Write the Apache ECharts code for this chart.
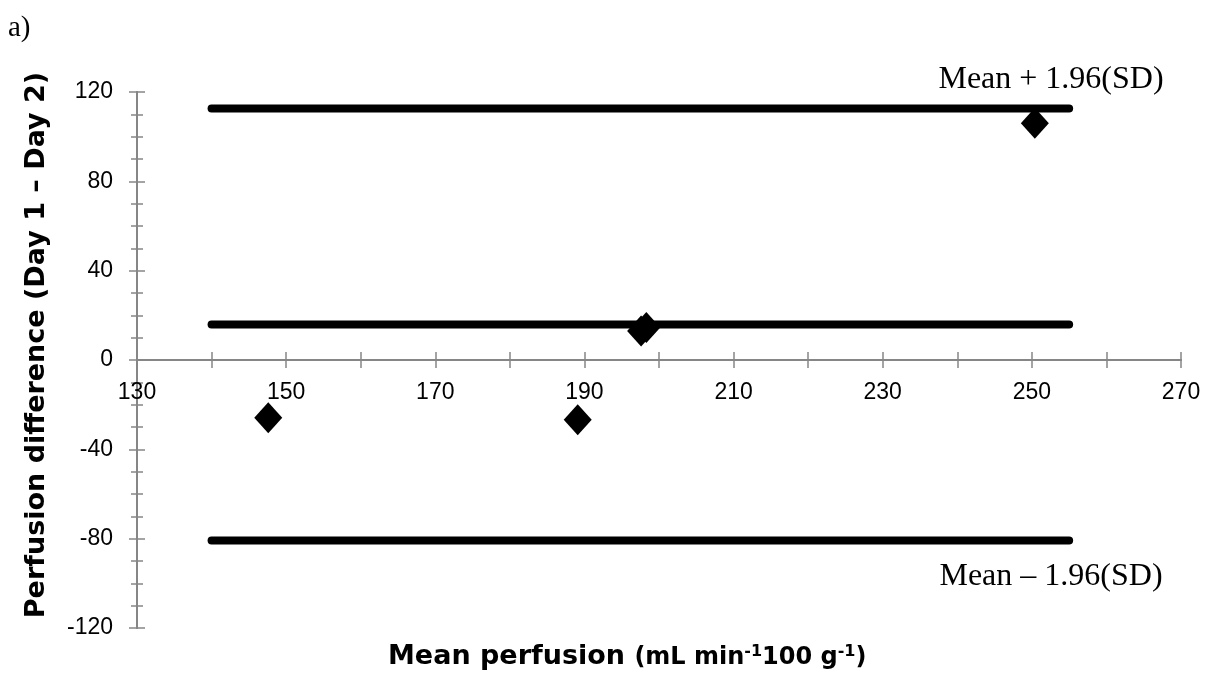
<!DOCTYPE html>
<html>
<head>
<meta charset="utf-8">
<script src="https://cdn.jsdelivr.net/npm/echarts@6/dist/echarts.min.js"></script>
<style>
  html, body { margin: 0; padding: 0; background: #fff; }
  #chart { width: 1208px; height: 677px; }
</style>
</head>
<body>
<div id="chart"></div>
<script>
// Bland-Altman data
const meanPerfusion = [147.6, 189.1, 197.6, 198.3, 250.4];
const perfusionDiff = [-25.9, -26.8, 13.0, 14.5, 106.0];
const limitRange = [140, 255];
const meanDiff = 15.9;
const upperLimit = 112.6;
const lowerLimit = -80.8;
const upperText = 'Mean + 1.96(SD)';
const lowerText = 'Mean \u2013 1.96(SD)';

const axisGray = '#868686';
const gridTop = 92;
const gridBottom = 49;
// x axis sits on y = 0, which is half way up the plot (y runs -120..120)
const xAxisShift = -(677 - gridTop - gridBottom) / 2;

const chart = echarts.init(document.getElementById('chart'));

function hLine(y) {
  return {
    type: 'line',
    data: limitRange.map(x => [x, y]),
    symbol: 'none',
    silent: true,
    z: 2,
    lineStyle: { color: '#000', width: 8, cap: 'round' }
  };
}

function xAx(inside) {
  return {
    type: 'value',
    min: 130,
    max: 270,
    interval: 20,
    position: 'bottom',
    offset: xAxisShift,
    axisLine: { show: true, onZero: false, lineStyle: { color: axisGray, width: 2 } },
    axisTick: { show: true, inside: inside, length: 8, lineStyle: { color: axisGray, width: 1.5 } },
    minorTick: { show: true, splitNumber: 2, length: 8, lineStyle: { color: axisGray, width: 1.5 } },
    axisLabel: {
      show: !inside,
      color: '#000',
      fontFamily: 'Liberation Sans',
      fontSize: 23,
      margin: 21
    },
    splitLine: { show: false }
  };
}

function yAx(inside) {
  return {
    type: 'value',
    min: -120,
    max: 120,
    interval: 40,
    position: 'left',
    axisLine: { show: true, onZero: false, lineStyle: { color: axisGray, width: 2 } },
    axisTick: { show: true, inside: inside, length: 8, lineStyle: { color: axisGray, width: 1.5 } },
    minorTick: { show: true, splitNumber: 4, length: 6, lineStyle: { color: axisGray, width: 1.5 } },
    axisLabel: {
      show: !inside,
      color: '#000',
      fontFamily: 'Liberation Sans',
      fontSize: 23,
      margin: 24
    },
    splitLine: { show: false }
  };
}

chart.setOption({
  animation: false,
  backgroundColor: '#fff',
  grid: { left: 137, right: 27, top: gridTop, bottom: gridBottom },
  xAxis: [xAx(false), xAx(true)],
  yAxis: [yAx(false), yAx(true)],
  series: [
    hLine(upperLimit),
    hLine(meanDiff),
    hLine(lowerLimit),
    {
      type: 'scatter',
      data: meanPerfusion.map((x, i) => [x, perfusionDiff[i]]),
      symbol: 'diamond',
      symbolSize: [28, 31],
      itemStyle: { color: '#000', opacity: 1 },
      z: 3
    }
  ],
  graphic: [
    {
      type: 'text', left: 8, top: 14,
      style: { text: 'a)', fill: '#000', font: '29px "Liberation Serif"' }
    },
    {
      type: 'text', x: 1051, y: 80,
      style: { text: upperText, fill: '#000', font: '32px "Liberation Serif"', align: 'center', verticalAlign: 'middle' }
    },
    {
      type: 'text', x: 1051, y: 577,
      style: { text: lowerText, fill: '#000', font: '32px "Liberation Serif"', align: 'center', verticalAlign: 'middle' }
    },
    {
      type: 'text', x: 37, y: 345, rotation: Math.PI / 2,
      style: {
        text: 'Perfusion difference (Day 1 \u2013 Day 2)',
        fill: '#000',
        font: 'bold 27px "DejaVu Sans"',
        align: 'center',
        verticalAlign: 'middle'
      }
    },
    {
      type: 'text', x: 388, y: 657,
      style: {
        text: '{a|Mean perfusion} {b|(mL min}{s|-1}{b|100 g}{s|-1}{b|)}',
        fill: '#000',
        align: 'left',
        verticalAlign: 'middle',
        rich: {
          a: { font: 'bold 27px "DejaVu Sans"', fill: '#000', verticalAlign: 'bottom', padding: [0, 6, 0, 0] },
          b: { font: 'bold 24px "DejaVu Sans"', fill: '#000', verticalAlign: 'bottom', padding: [0, 0, 1, 0] },
          s: { font: 'bold 16px "DejaVu Sans"', fill: '#000', verticalAlign: 'top' }
        }
      }
    }
  ]
});
</script>
</body>
</html>
